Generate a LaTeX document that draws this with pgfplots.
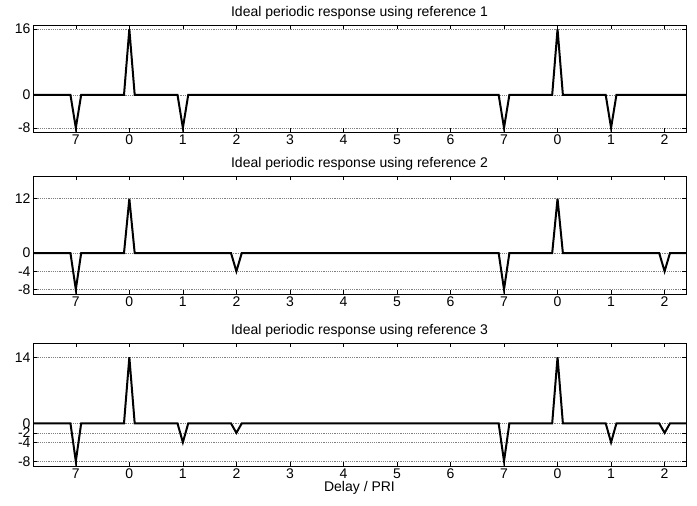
\documentclass[border=0pt]{standalone}
\usepackage{fontspec}
\setmainfont{Liberation Sans}
\usepackage{pgfplots}
\pgfplotsset{compat=1.18}
\begin{document}
\begin{tikzpicture}
\path[use as bounding box] (0pt,0pt) rectangle (697pt,-506pt);
\pgfplotsset{
  panel/.style={
    scale only axis,
    anchor=north west,
    width=653pt,
    xmin=-1.8, xmax=10.4,
    ymin=-9, ymax=17,
    xtick={-1,0,...,10},
    xticklabels={7,0,1,2,3,4,5,6,7,0,1,2},
    tick align=inside,
    major tick length=4pt,
    tick style={black, line width=0.4pt},
    axis line style={black, line width=0.5pt},
    ymajorgrids,
    major grid style={gray, line width=0.4pt, dash pattern=on 1.2pt off 1pt},
    tick label style={font=\fontsize{14}{16}\selectfont},
    xticklabel style={yshift=1pt},
    yticklabel style={xshift=1pt},
    /pgf/number format/assume math mode=true,
    title style={font=\fontsize{14}{16}\selectfont, yshift=-4pt},
    label style={font=\fontsize{14}{16}\selectfont},
  },
  sig/.style={black, line width=2pt, no markers, line join=miter},
}
\begin{axis}[panel, at={(33pt,-25pt)}, height=107pt,
  ytick={-8,0,16},
  title={Ideal periodic response using reference 1}]
\addplot[sig] coordinates {(-1.8,0) (-1.1,0) (-1,-8) (-0.9,0) (-0.1,0) (0,16) (0.1,0) (0.9,0) (1,-8) (1.1,0) (6.9,0) (7,-8) (7.1,0) (7.9,0) (8,16) (8.1,0) (8.9,0) (9,-8) (9.1,0) (10.4,0)};
\end{axis}
\begin{axis}[panel, at={(33pt,-176pt)}, height=118pt,
  ytick={-8,-4,0,12},
  title={Ideal periodic response using reference 2}]
\addplot[sig] coordinates {(-1.8,0) (-1.1,0) (-1,-8) (-0.9,0) (-0.1,0) (0,12) (0.1,0) (1.9,0) (2,-4) (2.1,0) (6.9,0) (7,-8) (7.1,0) (7.9,0) (8,12) (8.1,0) (9.9,0) (10,-4) (10.1,0) (10.4,0)};
\end{axis}
\begin{axis}[panel, at={(33pt,-343pt)}, height=123pt,
  ytick={-8,-4,-2,0,14},
  title={Ideal periodic response using reference 3},
  xlabel={Delay / PRI}, xlabel style={yshift=4pt}]
\addplot[sig] coordinates {(-1.8,0) (-1.1,0) (-1,-8) (-0.9,0) (-0.1,0) (0,14) (0.1,0) (0.9,0) (1,-4) (1.1,0) (1.9,0) (2,-2) (2.1,0) (6.9,0) (7,-8) (7.1,0) (7.9,0) (8,14) (8.1,0) (8.9,0) (9,-4) (9.1,0) (9.9,0) (10,-2) (10.1,0) (10.4,0)};
\end{axis}
\end{tikzpicture}
\end{document}
